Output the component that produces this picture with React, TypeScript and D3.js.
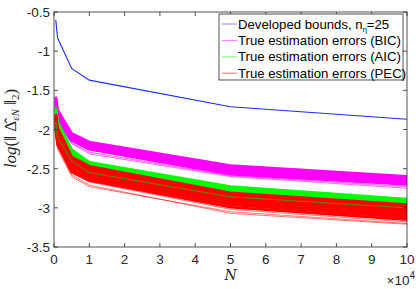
import React, { useRef, useEffect } from 'react';
import * as d3 from 'd3';

// sample sizes N
const sampleSizes = [500, 1000, 5000, 10000, 50000, 100000];

// developed bound, n_eta = 25
const boundValues = [-0.6, -0.83, -1.22, -1.37, -1.71, -1.87];

// true estimation errors, one row per Monte Carlo run
const bicRuns = [
  [-1.58, -1.75, -2.05, -2.16, -2.46, -2.6],
  [-1.6, -1.77, -2.06, -2.17, -2.47, -2.61],
  [-1.62, -1.79, -2.08, -2.19, -2.49, -2.63],
  [-1.64, -1.81, -2.09, -2.2, -2.51, -2.64],
  [-1.66, -1.83, -2.11, -2.22, -2.53, -2.66],
  [-1.69, -1.86, -2.12, -2.23, -2.55, -2.68],
  [-1.72, -1.89, -2.14, -2.25, -2.57, -2.7],
];
const bicOutliers = [
  [-1.7, -1.9, -2.17, -2.29, -2.59, -2.73],
  [-1.74, -1.92, -2.18, -2.31, -2.6, -2.75],
];

const aicRuns = [
  [-1.72, -1.9, -2.26, -2.42, -2.73, -2.89],
  [-1.74, -1.92, -2.27, -2.43, -2.75, -2.9],
  [-1.76, -1.94, -2.29, -2.45, -2.77, -2.92],
  [-1.79, -1.97, -2.31, -2.46, -2.79, -2.94],
  [-1.82, -2.0, -2.33, -2.48, -2.81, -2.96],
  [-1.86, -2.04, -2.35, -2.5, -2.83, -2.98],
];

const pecRuns = [
  [-1.8, -1.98, -2.35, -2.47, -2.81, -2.96],
  [-1.82, -2.0, -2.37, -2.49, -2.83, -2.98],
  [-1.84, -2.03, -2.39, -2.51, -2.85, -3.0],
  [-1.86, -2.05, -2.41, -2.53, -2.87, -3.02],
  [-1.88, -2.08, -2.43, -2.55, -2.89, -3.04],
  [-1.9, -2.1, -2.45, -2.57, -2.91, -3.06],
  [-1.93, -2.13, -2.48, -2.6, -2.94, -3.09],
  [-1.96, -2.16, -2.51, -2.62, -2.96, -3.12],
  [-1.99, -2.19, -2.54, -2.65, -2.99, -3.15],
];
const pecOutliers = [
  [-2.02, -2.22, -2.56, -2.67, -3.02, -3.18],
  [-2.0, -2.25, -2.6, -2.73, -3.05, -3.2],
  [-1.98, -2.2, -2.58, -2.71, -3.07, -3.21],
];

// a few AIC runs that sit inside the PEC band
const aicLowRuns = [
  [-1.9, -2.1, -2.4, -2.55, -2.86, -3.0],
];

const xTicks = [0, 1, 2, 3, 4, 5, 6, 7, 8, 9, 10];
const yTicks = [-3.5, -3, -2.5, -2, -1.5, -1, -0.5];

const legendLabels = [
  'True estimation errors (BIC)',
  'True estimation errors (AIC)',
  'True estimation errors (PEC)',
];

const Chart = () => {
  const svgRef = useRef(null);
  const width = 420;
  const height = 289;
  const margin = { top: 12, right: 13, bottom: 42, left: 54 };

  useEffect(() => {
    if (!svgRef.current) return;
    d3.select(svgRef.current).selectAll('*').remove();

    const innerWidth = width - margin.left - margin.right;
    const innerHeight = height - margin.top - margin.bottom;
    const axisColor = '#262626';
    const font = 'Liberation Sans, Arial, sans-serif';

    const svg = d3.select(svgRef.current)
      .attr('width', width)
      .attr('height', height)
      .append('g')
      .attr('transform', `translate(${margin.left},${margin.top})`);

    const x = d3.scaleLinear().domain([0, 10]).range([0, innerWidth]);
    const y = d3.scaleLinear().domain([-3.5, -0.5]).range([innerHeight, 0]);

    const line = d3.line()
      .x((d, i) => x(sampleSizes[i] / 1e4))
      .y(d => y(d));

    const plot = svg.append('g');

    const drawRuns = (runs, color, w, op = 1) => {
      plot.selectAll(null)
        .data(runs)
        .enter()
        .append('path')
        .attr('d', d => line(d))
        .attr('fill', 'none')
        .attr('stroke', color)
        .attr('stroke-width', w)
        .attr('stroke-opacity', op);
    };

    // bound
    plot.append('path')
      .attr('d', line(boundValues))
      .attr('fill', 'none')
      .attr('stroke', '#1c2cff')
      .attr('stroke-width', 1.1);

    drawRuns(bicOutliers, '#ff00ff', 0.9, 0.7);
    drawRuns(bicRuns, '#ff00ff', 2.8);
    drawRuns(aicRuns, '#00ff00', 2.8);
    drawRuns(pecOutliers, '#ff0000', 0.9, 0.6);
    drawRuns(pecRuns, '#ff0000', 2.8);
    drawRuns(aicLowRuns, '#00dd00', 0.8, 0.8);

    // box
    svg.append('rect')
      .attr('width', innerWidth)
      .attr('height', innerHeight)
      .attr('fill', 'none')
      .attr('stroke', axisColor)
      .attr('stroke-width', 0.8);

    // ticks (inward, on all four sides)
    const tl = 4;
    xTicks.forEach(t => {
      svg.append('line').attr('x1', x(t)).attr('x2', x(t)).attr('y1', innerHeight).attr('y2', innerHeight - tl)
        .attr('stroke', axisColor).attr('stroke-width', 0.8);
      svg.append('line').attr('x1', x(t)).attr('x2', x(t)).attr('y1', 0).attr('y2', tl)
        .attr('stroke', axisColor).attr('stroke-width', 0.8);
      svg.append('text')
        .attr('x', x(t))
        .attr('y', innerHeight + 17)
        .attr('text-anchor', 'middle')
        .attr('font-family', font)
        .attr('font-size', 13.5)
        .attr('fill', axisColor)
        .text(t);
    });
    yTicks.forEach(t => {
      svg.append('line').attr('x1', 0).attr('x2', tl).attr('y1', y(t)).attr('y2', y(t))
        .attr('stroke', axisColor).attr('stroke-width', 0.8);
      svg.append('line').attr('x1', innerWidth).attr('x2', innerWidth - tl).attr('y1', y(t)).attr('y2', y(t))
        .attr('stroke', axisColor).attr('stroke-width', 0.8);
      svg.append('text')
        .attr('x', -4)
        .attr('y', y(t) + 5)
        .attr('text-anchor', 'end')
        .attr('font-family', font)
        .attr('font-size', 13.5)
        .attr('fill', axisColor)
        .text(t);
    });

    // x10^4 exponent
    const expo = svg.append('text')
      .attr('x', innerWidth + 8)
      .attr('y', innerHeight + 38)
      .attr('text-anchor', 'end')
      .attr('font-family', font)
      .attr('font-size', 13.5)
      .attr('fill', axisColor);
    expo.append('tspan').text('\u00d710');
    expo.append('tspan').attr('dy', -6).attr('font-size', 10).text('4');

    // axis labels
    svg.append('text')
      .attr('x', innerWidth / 2)
      .attr('y', innerHeight + 33)
      .attr('text-anchor', 'middle')
      .attr('font-family', 'DejaVu Serif, serif')
      .attr('font-style', 'italic')
      .attr('font-size', 14)
      .attr('fill', axisColor)
      .text('N');

    const yl = svg.append('text')
      .attr('transform', `translate(${-38},${innerHeight / 2 - 1}) rotate(-90)`)
      .attr('text-anchor', 'middle')
      .attr('font-family', 'Liberation Serif, serif')
      .attr('font-size', 17)
      .attr('fill', axisColor);
    yl.append('tspan').attr('font-style', 'italic').text('log');
    yl.append('tspan').text('(\u2016 ');
    yl.append('tspan').text('\u0394\u0302');
    yl.append('tspan').attr('dy', 3).attr('font-size', 11).attr('font-style', 'italic').text('\u03b5N');
    yl.append('tspan').attr('dy', -3).text(' \u2016');
    yl.append('tspan').attr('dy', 3).attr('font-size', 11).text('2');
    yl.append('tspan').attr('dy', -3).text(')');

    // legend
    const lg = svg.append('g').attr('transform', `translate(${219 - margin.left},${14 - margin.top})`);
    lg.append('rect')
      .attr('width', 184)
      .attr('height', 66)
      .attr('fill', 'white')
      .attr('stroke', axisColor)
      .attr('stroke-width', 0.8);
    const entries = [
      { color: '#1c2cff' },
      { color: '#ff00ff', label: legendLabels[0] },
      { color: '#00ff00', label: legendLabels[1] },
      { color: '#ff0000', label: legendLabels[2] },
    ];
    entries.forEach((e, i) => {
      const cy = 10 + i * 16.4;
      lg.append('line')
        .attr('x1', 3).attr('x2', 18).attr('y1', cy).attr('y2', cy)
        .attr('stroke', e.color).attr('stroke-width', 0.8).attr('stroke-opacity', 0.7);
      const t = lg.append('text')
        .attr('x', 19)
        .attr('y', cy + 4.5)
        .attr('font-family', font)
        .attr('font-size', 13.2)
        .attr('fill', '#000');
      if (e.label) {
        t.text(e.label);
      } else {
        t.append('tspan').text('Developed bounds, n');
        t.append('tspan').attr('dy', 3).attr('font-size', 7.5).text('\u03b7');
        t.append('tspan').attr('dy', -3).text('=25');
      }
    });
  }, []);

  return (
    <div style={{ position: 'absolute', left: 0, top: 0, width, height, background: 'white' }}>
      <svg ref={svgRef}></svg>
    </div>
  );
};

export default function App() {
  return <Chart />;
}
